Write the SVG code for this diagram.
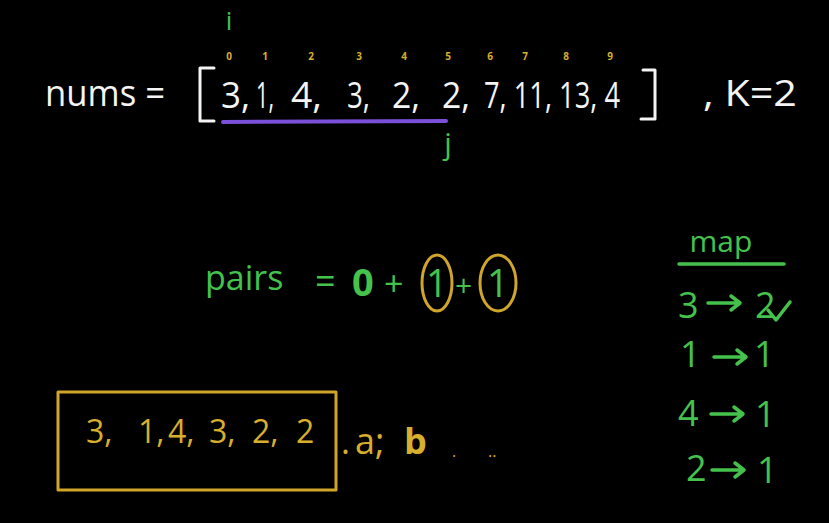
<svg xmlns="http://www.w3.org/2000/svg" width="829" height="523" viewBox="0 0 829 523">
<style>
text{font-family:"Open Sans","DejaVu Sans",sans-serif}
.w{fill:#f4f4f4;font-size:36px}
.g{fill:#45c24c}
.y{fill:#d8ae2e}
.idx{fill:#d8ae2e;font-size:10px;font-weight:bold;text-anchor:middle}
.m{fill:#45c24c;font-size:36px}
.sw{stroke:#f4f4f4;stroke-width:3;fill:none;stroke-linecap:round;stroke-linejoin:round}
.sy{stroke:#cfa52a;stroke-width:3;fill:none;stroke-linecap:round;stroke-linejoin:round}
.sg{stroke:#45c24c;stroke-width:3.5;fill:none;stroke-linecap:round;stroke-linejoin:round}
</style>
<defs>
<path id="arr" d="M0,0 L32,0 M23,-7 L32,0 L23,7" stroke="#45c24c" stroke-width="3.5" fill="none" stroke-linecap="round" stroke-linejoin="round"/>
</defs>
<rect width="829" height="523" fill="#000"/>
<g id="array">
<text x="229" y="30" class="g" font-size="26" text-anchor="middle">i</text>
<text x="229" y="60" class="idx">0</text>
<text x="265" y="60" class="idx">1</text>
<text x="311" y="60" class="idx">2</text>
<text x="359" y="60" class="idx">3</text>
<text x="404" y="60" class="idx">4</text>
<text x="448" y="60" class="idx">5</text>
<text x="490" y="60" class="idx">6</text>
<text x="525" y="60" class="idx">7</text>
<text x="566" y="60" class="idx">8</text>
<text x="610" y="60" class="idx">9</text>
<text x="45" y="106" class="w" font-size="31" textLength="120" lengthAdjust="spacingAndGlyphs">nums =</text>
<path class="sw" d="M214,68 L200,68 L200,121 L214,121"/>
<text x="221" y="108" class="w" textLength="29" lengthAdjust="spacingAndGlyphs">3,</text>
<text x="256" y="108" class="w" textLength="18" lengthAdjust="spacingAndGlyphs">1,</text>
<text x="291" y="108" class="w" textLength="31" lengthAdjust="spacingAndGlyphs">4,</text>
<text x="347" y="108" class="w" textLength="23" lengthAdjust="spacingAndGlyphs">3,</text>
<text x="392" y="108" class="w" textLength="28" lengthAdjust="spacingAndGlyphs">2,</text>
<text x="442" y="108" class="w" textLength="28" lengthAdjust="spacingAndGlyphs">2,</text>
<text x="484" y="108" class="w" font-size="32" textLength="136" lengthAdjust="spacingAndGlyphs">7, 11, 13, 4</text>
<path class="sw" d="M643,70 L655,70 L655,119 L641,119"/>
<text x="703" y="106" class="w" font-size="34" textLength="94" lengthAdjust="spacingAndGlyphs">, K=2</text>
<path d="M223,122 L446,121" stroke="#7a4fd9" stroke-width="4" stroke-linecap="round"/>
<text x="448" y="154" class="g" font-size="30" text-anchor="middle">j</text>
</g>
<g id="pairs">
<text x="205" y="290" class="g" font-size="34">pairs</text>
<text x="315" y="294" class="g" font-size="36">=</text>
<text x="352" y="296" class="g" font-size="38" font-weight="bold">0</text>
<text x="384" y="296" class="g" font-size="34">+</text>
<text x="426" y="297" class="g" font-size="38">1</text>
<text x="455" y="296" class="g" font-size="30">+</text>
<text x="487" y="297" class="g" font-size="38">1</text>
<ellipse cx="437" cy="283" rx="15" ry="28" class="sy"/>
<ellipse cx="498" cy="283" rx="18" ry="28" class="sy"/>
</g>
<g id="map">
<text x="721" y="252" class="g" font-size="30" text-anchor="middle">map</text>
<path d="M679,264 L784,264" stroke="#45c24c" stroke-width="3.5" stroke-linecap="round"/>
<text x="678" y="318" class="m">3</text>
<use href="#arr" x="708" y="303"/>
<text x="755" y="318" class="m">2</text>
<path class="sg" d="M768,310 L776,320 L790,302"/>
<text x="680" y="367" class="m">1</text>
<use href="#arr" x="714" y="357"/>
<text x="754" y="367" class="m">1</text>
<text x="678" y="426" class="m">4</text>
<use href="#arr" x="711" y="414"/>
<text x="755" y="427" class="m">1</text>
<text x="686" y="481" class="m">2</text>
<use href="#arr" x="712" y="470"/>
<text x="757" y="483" class="m">1</text>
</g>
<g id="subarray">
<rect x="58" y="392" width="278" height="98" class="sy"/>
<text x="86" y="443" class="y" font-size="32">3,</text>
<text x="138" y="443" class="y" font-size="32">1,</text>
<text x="168" y="443" class="y" font-size="32">4,</text>
<text x="209" y="443" class="y" font-size="32">3,</text>
<text x="252" y="443" class="y" font-size="32">2,</text>
<text x="296" y="443" class="y" font-size="32">2</text>
<text x="341" y="454" class="y" font-size="34">.</text>
<text x="355" y="454" class="y" font-size="36">a;</text>
<text x="404" y="454" class="y" font-size="36" font-weight="bold">b</text>
<text x="452" y="457" class="y" font-size="16">.</text>
<text x="488" y="457" class="y" font-size="16">..</text>
</g>
</svg>
